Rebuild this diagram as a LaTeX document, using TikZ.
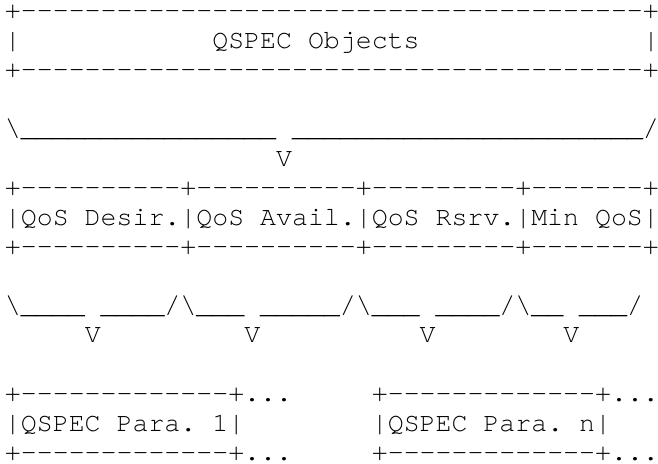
\documentclass[tikz,border=0pt]{standalone}
\usepackage{fontspec}
\setmonofont{texgyrecursor-regular.otf}
\frenchspacing
\newcommand\rpt[2]{\foreach \ii in {1,...,#1}{#2}}
\newcommand\cellat[4]{\node[asc] (#1) at ({5+15.95*#2},{444-29.45*#3}) {#4};}
\tikzset{asc/.style={anchor=base west,inner sep=0pt,outer sep=0pt,text height=14pt,text depth=1pt,font=\ttfamily\fontsize{26.58}{29.45}\selectfont,text=black}}
\begin{document}
\begin{tikzpicture}[x=1pt,y=1pt]
\useasboundingbox (0,0) rectangle (658,463);
% top box
\cellat{topA}{0}{0}{+\rpt{39}{-}+}
\cellat{topL}{0}{1}{|}
\cellat{topT}{13}{1}{QSPEC Objects}
\cellat{topR}{40}{1}{|}
\cellat{topB}{0}{2}{+\rpt{39}{-}+}
% brace 1
\cellat{brA}{0}{4}{\textbackslash\rpt{16}{\_}}
\cellat{brB}{18}{4}{\rpt{22}{\_}/}
\cellat{vA}{17}{5}{V}
% middle box
\cellat{midA}{0}{6}{+\rpt{10}{-}+\rpt{10}{-}+\rpt{9}{-}+\rpt{7}{-}+}
\cellat{midT}{0}{7}{|QoS Desir.|QoS Avail.|QoS Rsrv.|Min QoS|}
\cellat{midB}{0}{8}{+\rpt{10}{-}+\rpt{10}{-}+\rpt{9}{-}+\rpt{7}{-}+}
% braces 2
\cellat{b1}{0}{10}{\textbackslash\rpt{4}{\_}}
\cellat{b2}{6}{10}{\rpt{4}{\_}/\textbackslash\rpt{3}{\_}}
\cellat{b3}{16}{10}{\rpt{5}{\_}/\textbackslash\rpt{3}{\_}}
\cellat{b4}{27}{10}{\rpt{4}{\_}/\textbackslash\rpt{2}{\_}}
\cellat{b5}{36}{10}{\rpt{3}{\_}/}
\cellat{v1}{5}{11}{V}
\cellat{v2}{15}{11}{V}
\cellat{v3}{26}{11}{V}
\cellat{v4}{35}{11}{V}
% parameter boxes
\cellat{p1A}{0}{13}{+\rpt{13}{-}+...}
\cellat{p1T}{0}{14}{|QSPEC Para. 1|}
\cellat{p1B}{0}{15}{+\rpt{13}{-}+...}
\cellat{pnA}{23}{13}{+\rpt{13}{-}+...}
\cellat{pnT}{23}{14}{|QSPEC Para. n|}
\cellat{pnB}{23}{15}{+\rpt{13}{-}+...}
\end{tikzpicture}
\end{document}
